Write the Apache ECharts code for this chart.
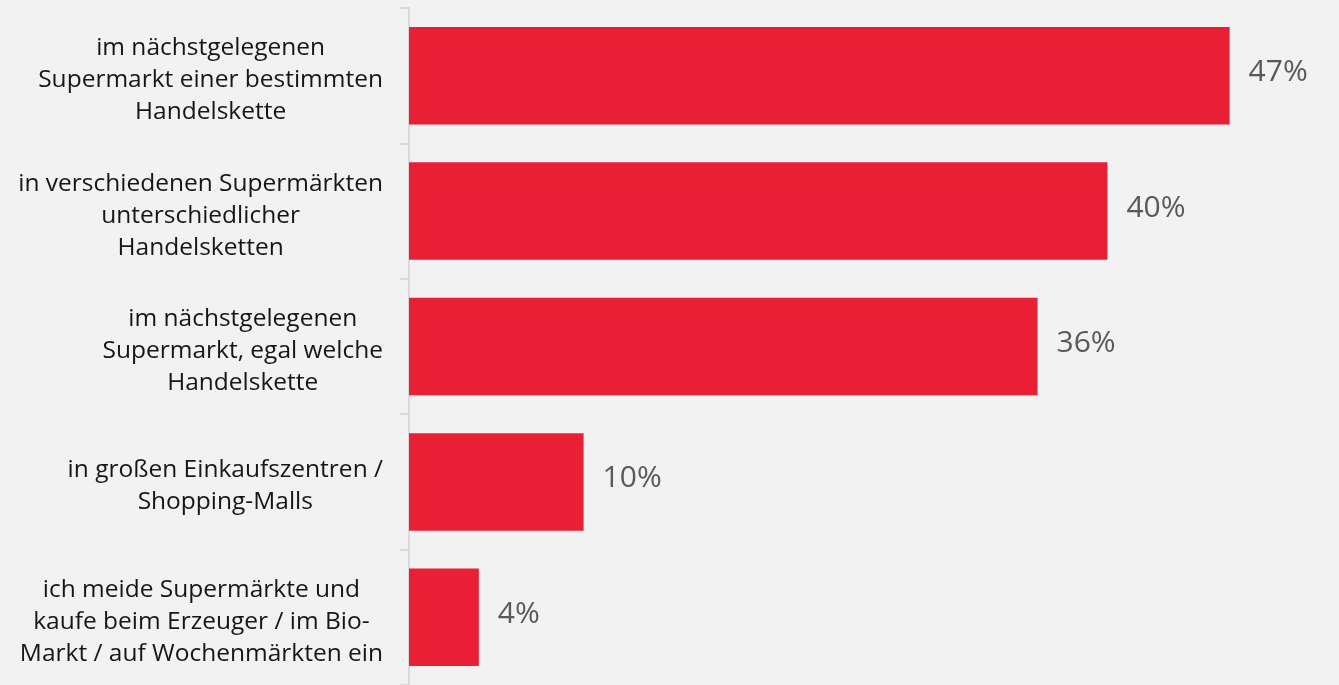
<!DOCTYPE html>
<html>
<head>
<meta charset="utf-8">
<script src="https://cdn.jsdelivr.net/npm/echarts@6/dist/echarts.min.js"></script>
<style>
  html, body { margin: 0; padding: 0; background: #f2f2f2; }
  #chart { width: 1339px; height: 685px; }
</style>
</head>
<body>
<div id="chart"></div>
<script>
// Where people shop for groceries (share of respondents, %)
const categories = [
  'im nächstgelegenen\nSupermarkt einer bestimmten\nHandelskette',
  'in verschiedenen Supermärkten\nunterschiedlicher\nHandelsketten',
  'im nächstgelegenen\nSupermarkt, egal welche\nHandelskette',
  'in großen Einkaufszentren /\nShopping-Malls',
  'ich meide Supermärkte und\nkaufe beim Erzeuger / im Bio-\nMarkt / auf Wochenmärkten ein'
];
const shares = [47, 40, 36, 10, 4];

const chart = echarts.init(document.getElementById('chart'));

chart.setOption({
  backgroundColor: '#f2f2f2',
  animation: false,
  grid: { left: 409, right: 57, top: 8, bottom: -4, containLabel: false },
  xAxis: {
    type: 'value',
    min: 0,
    max: 50,
    show: false
  },
  yAxis: {
    type: 'category',
    inverse: true,
    data: categories,
    axisLine: { show: true, lineStyle: { color: '#d9d9d9', width: 2 } },
    axisTick: { show: true, length: 9, lineStyle: { color: '#d9d9d9', width: 2 } },
    axisLabel: {
      margin: 26,
      align: 'right',
      padding: [9, 0, 0, 0],
      color: '#161616',
      fontFamily: 'Open Sans',
      fontSize: 24.5,
      lineHeight: 32,
      // each line is centred inside the right-aligned label block
      formatter: function (value) {
        return value.split('\n').map(function (l) { return '{c|' + l + '}'; }).join('\n');
      },
      rich: {
        c: { align: 'center', color: '#161616', fontFamily: 'Open Sans', fontSize: 24.5, lineHeight: 32 }
      }
    }
  },
  series: [{
    type: 'bar',
    data: shares,
    barCategoryGap: '28%',
    itemStyle: { color: '#e81f35' },
    label: {
      show: true,
      position: 'right',
      distance: 19,
      offset: [0, -3],
      formatter: '{c}%',
      color: '#595959',
      fontFamily: 'Open Sans',
      fontSize: 30
    }
  }]
});
</script>
</body>
</html>
